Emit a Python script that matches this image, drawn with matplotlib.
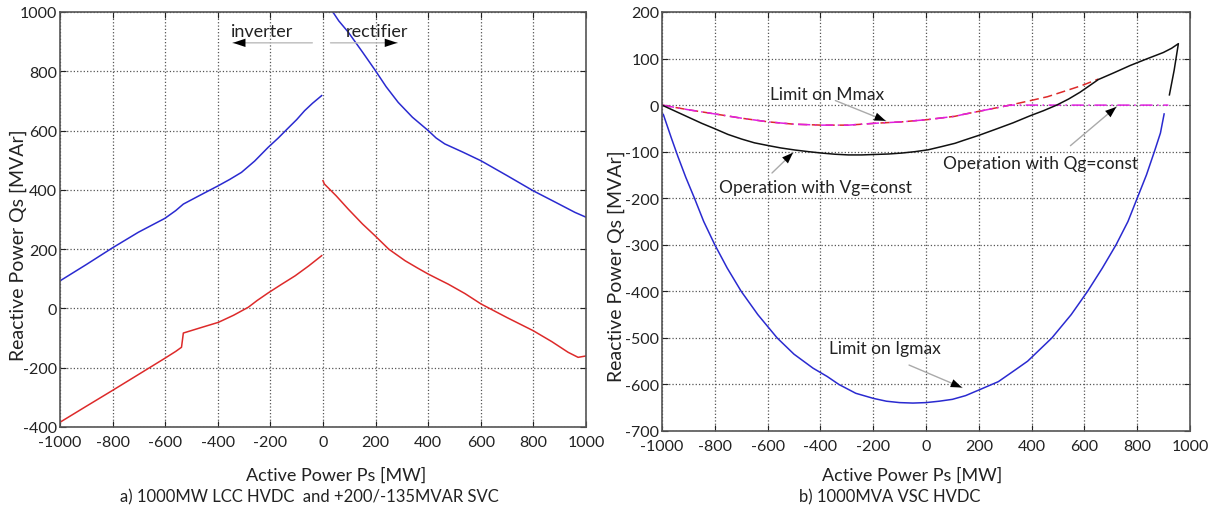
import matplotlib.pyplot as plt
import numpy as np

plt.rcParams['font.family'] = ['Lato', 'DejaVu Sans']
plt.rcParams['axes.unicode_minus'] = False

# --- a) LCC HVDC + SVC ---
inv_p = [-1000, -900, -803, -702, -601, -560, -531, -465, -398, -355, -310, -260, -209, -170, -133, -100, -70, -40, -5]
inv_q_up = [93, 148, 203, 257, 304, 330, 352, 383, 414, 435, 459, 497, 543, 575, 608, 637, 667, 692, 718]
inv_p_low = [-1000, -900, -803, -700, -601, -560, -538, -531, -465, -398, -340, -284, -250, -209, -160, -106, -55, -5]
inv_q_low = [-384, -330, -278, -222, -168, -145, -131, -83, -65, -47, -23, 4, 27, 52, 80, 110, 143, 178]

rect_p = [33, 60, 96, 150, 198, 240, 286, 340, 400, 430, 463, 530, 601, 700, 799, 880, 958, 1002]
rect_q_up = [1006, 970, 932, 865, 804, 748, 695, 645, 600, 575, 555, 528, 498, 448, 397, 360, 324, 307]
rect_p_low = [0, 5, 50, 96, 150, 198, 250, 312, 360, 400, 440, 476, 540, 601, 700, 799, 870, 932, 970, 1002]
rect_q_low = [431, 420, 380, 335, 285, 245, 200, 161, 136, 116, 98, 82, 50, 15, -31, -75, -112, -148, -165, -160]

# --- b) VSC HVDC ---
ig_p = [-995, -980, -965, -940, -910, -877, -842, -800, -753, -700, -637, -564, -500, -428, -374, -330, -266, -199, -150,
        -100, -50, 0, 50, 100, 150, 200, 274, 340, 385, 477, 550, 612, 668, 720, 765, 800, 835, 865, 888, 902]
ig_q = [-20, -45, -70, -110, -155, -200, -250, -300, -350, -400, -450, -500, -535, -565, -583, -600, -619, -630, -636,
        -639, -640, -639, -636, -632, -624, -612, -594, -568, -550, -500, -450, -400, -350, -300, -250, -200, -150, -100, -60, -19]

vg_p = [-1000, -950, -900, -850, -799, -750, -698, -650, -597, -550, -496, -445, -395, -345, -294, -243, -193, -142, -92,
        -42, 8, 60, 110, 141, 200, 268, 330, 394, 445, 495, 540, 583, 620, 653, 710, 773, 835, 899, 930, 956, 940, 922]
vg_q = [0, -13, -26, -39, -51, -63, -73, -81, -87, -92, -96.5, -100, -103, -105.5, -107, -107, -106, -105, -103,
        -100, -96, -89, -82, -76, -65, -51, -38, -23, -12, 0, 13, 27.5, 42, 55, 69, 85, 99, 113, 122, 132, 75, 22]

mm_p = [-1000, -900, -799, -700, -597, -500, -395, -294, -193, -92, 8, 110, 141, 230, 318, 394, 460, 520, 590, 653]
mm_q = [0, -10, -19, -28, -36, -41, -43, -43, -39, -36, -31, -24, -20, -10, 0, 9.5, 18, 29, 42, 56]

qg_p = [-1000, -900, -799, -700, -597, -500, -395, -294, -193, -92, 8, 110, 141, 230, 318, 918]
qg_q = [0, -10, -19, -28, -36, -41, -43, -43, -39, -36, -31, -24, -20, -10, 0, 0]

BLUE = '#2a2ad0'
RED = '#dd2a2a'
TXT = '#222222'


def style_axes(ax, ylim, yticks, label_y):
    ax.set_xlim(-1000, 1000)
    ax.set_ylim(*ylim)
    ax.set_xticks(np.arange(-1000, 1001, 200))
    ax.set_yticks(yticks)
    ax.grid(True, linestyle=':', color='#555555', linewidth=0.9)
    ax.tick_params(direction='in', top=True, right=True, length=4, labelsize=11.5, colors=TXT)
    ax.tick_params(axis='x', pad=6)
    ax.tick_params(axis='y', pad=2)
    for sp in ax.spines.values():
        sp.set_color('#555555')
        sp.set_linewidth(1.2)
    ax.set_ylabel('Reactive Power Qs [MVAr]', fontsize=14, color=TXT)
    ax.yaxis.set_label_coords(label_y[0], label_y[1])


def pointer(ax, text, xy, xytext, tail):
    ax.annotate('', xy=xy, xytext=tail,
                arrowprops=dict(arrowstyle='-', color='#aaaaaa', lw=1))
    head_from = (xy[0] + (tail[0] - xy[0]) * 0.3, xy[1] + (tail[1] - xy[1]) * 0.3)
    ax.annotate('', xy=xy, xytext=head_from,
                arrowprops=dict(arrowstyle='-|>,head_length=0.8,head_width=0.3', color='black', lw=0.01))
    ax.text(xytext[0], xytext[1], text, fontsize=12.5, ha='center', va='center', color=TXT)


fig = plt.figure(figsize=(12.15, 5.1), dpi=100)
ax1 = fig.add_axes([60 / 1215, 1 - 428 / 510, 526 / 1215, 415 / 510])
ax2 = fig.add_axes([662 / 1215, 1 - 432 / 510, 528 / 1215, 419 / 510])

ax1.plot(inv_p, inv_q_up, color=BLUE, lw=1.1)
ax1.plot(rect_p, rect_q_up, color=BLUE, lw=1.1)
ax1.plot(inv_p_low, inv_q_low, color=RED, lw=1.1)
ax1.plot(rect_p_low, rect_q_low, color=RED, lw=1.1)
style_axes(ax1, (-400, 1000), np.arange(-400, 1001, 200), (-0.062, 0.44))

# inverter / rectifier arrows
ax1.annotate('', xy=(-353, 896), xytext=(-30, 896),
             arrowprops=dict(arrowstyle='-', color='#bbbbbb', lw=1))
ax1.annotate('', xy=(-353, 896), xytext=(-270, 896),
             arrowprops=dict(arrowstyle='-|>,head_length=0.9,head_width=0.3', color='black', lw=0.01))
ax1.annotate('', xy=(293, 896), xytext=(18, 896),
             arrowprops=dict(arrowstyle='-', color='#bbbbbb', lw=1))
ax1.annotate('', xy=(293, 896), xytext=(210, 896),
             arrowprops=dict(arrowstyle='-|>,head_length=0.9,head_width=0.3', color='black', lw=0.01))
ax1.text(-230, 935, 'inverter', fontsize=13, ha='center', va='center', color=TXT)
ax1.text(204, 935, 'rectifier', fontsize=13, ha='center', va='center', color=TXT)

ax2.plot(ig_p, ig_q, color=BLUE, lw=1.1)
ax2.plot(mm_p, mm_q, color=RED, lw=1.1, linestyle=(0, (6, 3)))
ax2.plot(qg_p, qg_q, color='#e020e0', lw=1.1, linestyle=(0, (8, 3, 1, 3)))
ax2.plot(vg_p, vg_q, color='#111111', lw=1.1)
style_axes(ax2, (-700, 200), np.arange(-700, 201, 100), (-0.07, 0.396))

pointer(ax2, 'Limit on Mmax', (-143, -36), (-376, 24), (-353, 12))
pointer(ax2, 'Operation with Vg=const', (-496, -98), (-417, -176), (-591, -150))
pointer(ax2, 'Operation with Qg=const', (729, 0), (432, -124), (539, -91))
pointer(ax2, 'Limit on Igmax', (146, -609), (-155, -522), (-74, -556))

fig.text(336 / 1215, 1 - 476 / 510, 'Active Power Ps [MW]', fontsize=13, ha='center', va='center', color=TXT)
fig.text(309 / 1215, 1 - 497 / 510, 'a) 1000MW LCC HVDC  and +200/-135MVAR SVC', fontsize=12, ha='center', va='center', color=TXT)
fig.text(912 / 1215, 1 - 476 / 510, 'Active Power Ps [MW]', fontsize=13, ha='center', va='center', color=TXT)
fig.text(890 / 1215, 1 - 497 / 510, 'b) 1000MVA VSC HVDC', fontsize=12, ha='center', va='center', color=TXT)

fig.savefig('out.png', dpi=100)
